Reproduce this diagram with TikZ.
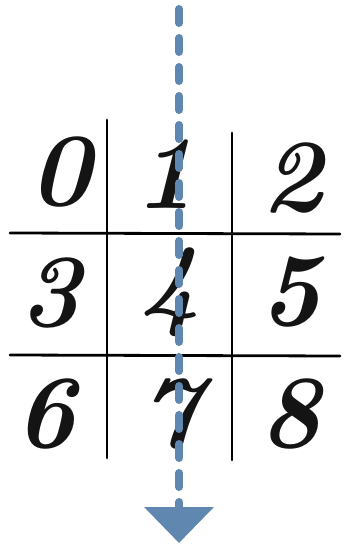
\documentclass[tikz,border=0pt]{standalone}
\usetikzlibrary{arrows.meta}
\definecolor{arrowblue}{RGB}{96,135,175}
\begin{document}
\begin{tikzpicture}[x=1pt,y=1pt,
  gridline/.style={black,line width=2.8pt,line cap=round},
  digit/.style={font=\fontsize{104}{104}\selectfont\bfseries\itshape,inner sep=0pt,text=black!92},
  dashline/.style={arrowblue,line width=8pt,line cap=round,dash pattern=on 14pt off 15pt,
    -{Triangle[width=68pt,length=36pt,line cap=butt]}}]
\useasboundingbox (0,0) rectangle (344,-546);
% grid
\draw[gridline] (107,-120) -- (107,-458);
\draw[gridline] (232,-133) -- (232,-460);
\draw[gridline] (10,-233) -- (340,-234);
\draw[gridline] (10,-355) -- (340,-356);
% digits
\node[digit] (d0) at (60,-172) {0};
\node[digit] (d1) at (165,-174) {1};
\node[digit] (d2) at (292,-178) {2};
\node[digit] (d3) at (50,-293) {3};
\node[digit] (d4) at (170,-292) {4};
\node[digit] (d5) at (290,-292) {5};
\node[digit] (d6) at (45,-414) {6};
\node[digit] (d7) at (170,-414) {7};
\node[digit] (d8) at (290,-414) {8};
% arrow
\coordinate (top) at (179,-9);
\coordinate (bot) at (179,-543);
\draw[dashline] (top) -- (bot);
\end{tikzpicture}
\end{document}
